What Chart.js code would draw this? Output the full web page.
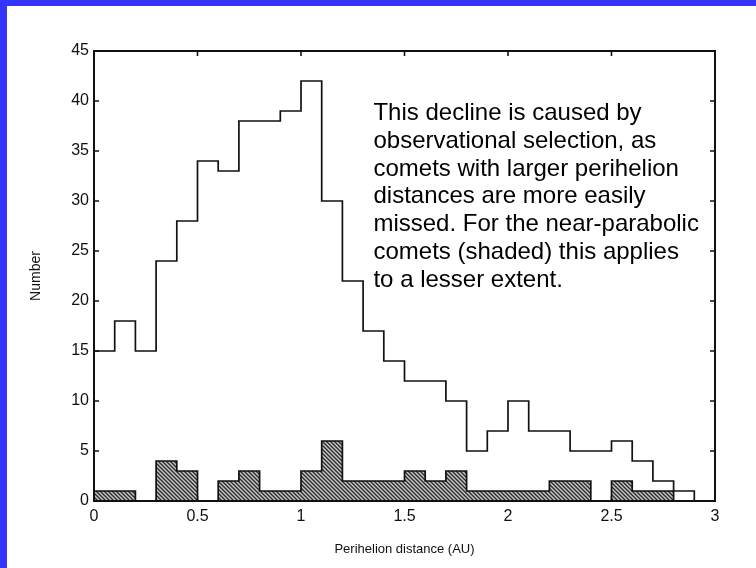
<!DOCTYPE html>
<html>
<head>
<meta charset="utf-8">
<script src="https://cdn.jsdelivr.net/npm/chart.js@4/dist/chart.umd.min.js"></script>
<style>
  html, body { margin: 0; padding: 0; }
  body { width: 756px; height: 568px; background: #3434fc; overflow: hidden; position: relative; }
  #panel { position: absolute; left: 7px; top: 6px; width: 749px; height: 562px; background: #fff; }
  canvas { display: block; }
</style>
</head>
<body>
<div id="panel"><canvas id="perihelionChart" width="749" height="562"></canvas></div>
<script>
// Comets per 0.1 AU bin of perihelion distance, 0 to 3 AU
const binWidth = 0.1;
const allComets = [15, 18, 15, 24, 28, 34, 33, 38, 38, 39, 42, 30, 22, 17, 14,
                   12, 12, 10, 5, 7, 10, 7, 7, 5, 5, 6, 4, 2, 1, 0];
const nearParabolic = [1, 1, 0, 4, 3, 0, 2, 3, 1, 1, 3, 6, 2, 2, 2,
                       3, 2, 3, 1, 1, 1, 1, 2, 2, 0, 2, 1, 1, 0, 0];
const xTicks = [0, 0.5, 1, 1.5, 2, 2.5, 3];
const xTickLabels = ['0', '0.5', '1', '1.5', '2', '2.5', '3'];
const yTicks = [0, 5, 10, 15, 20, 25, 30, 35, 40, 45];

const noteLines = [
  'This decline is caused by',
  'observational selection, as',
  'comets with larger perihelion',
  'distances are more easily',
  'missed. For the near-parabolic',
  'comets (shaded) this applies',
  'to a lesser extent.'
];

// turn bin counts into step points: left edge of each bin plus the closing edge
function stepPoints(counts) {
  const pts = counts.map((v, i) => ({ x: +(i * binWidth).toFixed(2), y: v }));
  pts.push({ x: +(counts.length * binWidth).toFixed(2), y: counts[counts.length - 1] });
  return pts;
}

// diagonal hatching used for the shaded histogram
function hatchPattern() {
  const c = document.createElement('canvas');
  c.width = 4; c.height = 4;
  const g = c.getContext('2d');
  g.fillStyle = '#c4c4c4';
  g.fillRect(0, 0, 4, 4);
  g.strokeStyle = '#2a2a2a';
  g.lineWidth = 1.3;
  g.beginPath();
  g.moveTo(-1, -1); g.lineTo(5, 5);
  g.moveTo(-1, 3); g.lineTo(1, 5);
  g.moveTo(3, -1); g.lineTo(5, 1);
  g.stroke();
  return g.createPattern(c, 'repeat');
}

const FONT = '"Liberation Sans", Arial, Helvetica, sans-serif';
Chart.defaults.font.family = FONT;
Chart.defaults.color = '#111';

const boxAndTicks = {
  id: 'boxAndTicks',
  beforeDatasetsDraw(chart) {
    const { ctx, chartArea: a, scales: { x, y } } = chart;
    ctx.save();
    ctx.strokeStyle = '#111';
    ctx.lineWidth = 1.6;
    ctx.beginPath();
    xTicks.forEach(v => {
      const px = x.getPixelForValue(v);
      ctx.moveTo(px, a.top); ctx.lineTo(px, a.top + 5);
      ctx.moveTo(px, a.bottom); ctx.lineTo(px, a.bottom - 5);
    });
    yTicks.forEach(v => {
      const py = y.getPixelForValue(v);
      ctx.moveTo(a.left, py); ctx.lineTo(a.left + 5, py);
      ctx.moveTo(a.right, py); ctx.lineTo(a.right - 5, py);
    });
    ctx.stroke();
    ctx.restore();
  },
  afterDatasetsDraw(chart) {
    const { ctx, chartArea: a, scales: { x, y } } = chart;
    ctx.save();
    ctx.strokeStyle = '#111';
    ctx.lineWidth = 2;
    ctx.strokeRect(a.left, a.top, a.right - a.left, a.bottom - a.top);

    // explanatory note inside the plot
    ctx.fillStyle = '#000';
    ctx.font = '24px ' + FONT;
    ctx.textAlign = 'left';
    ctx.textBaseline = 'alphabetic';
    const left = x.getPixelForValue(1.35);
    const top = y.getPixelForValue(38.1);
    noteLines.forEach((line, i) => ctx.fillText(line, left, top + i * 27.8));
    ctx.restore();
  }
};

new Chart(document.getElementById('perihelionChart'), {
  type: 'line',
  data: {
    datasets: [
      {
        label: 'All comets',
        data: stepPoints(allComets),
        stepped: true,
        borderColor: '#111',
        borderWidth: 1.7,
        pointRadius: 0,
        fill: false
      },
      {
        label: 'Near-parabolic',
        data: stepPoints(nearParabolic),
        stepped: true,
        borderColor: '#111',
        borderWidth: 1.7,
        backgroundColor: hatchPattern(),
        pointRadius: 0,
        fill: 'origin'
      }
    ]
  },
  options: {
    responsive: false,
    animation: false,
    devicePixelRatio: 1,
    layout: { padding: { top: 45, right: 41, left: 0, bottom: 0 } },
    plugins: {
      legend: { display: false },
      tooltip: { enabled: false }
    },
    scales: {
      x: {
        type: 'linear',
        min: 0,
        max: 3,
        afterFit: s => { s.height = 67; },
        afterBuildTicks: s => { s.ticks = xTicks.map(v => ({ value: v })); },
        grid: { display: false, drawTicks: false },
        border: { display: false },
        ticks: {
          font: { size: 16 },
          color: '#111',
          padding: 6,
          maxRotation: 0,
          callback: (v, i) => xTickLabels[i]
        },
        title: {
          display: true,
          text: 'Perihelion distance (AU)',
          font: { size: 13 },
          color: '#111',
          padding: { top: 0, bottom: 11 }
        }
      },
      y: {
        min: 0,
        max: 45,
        afterFit: s => { s.width = 87; },
        afterBuildTicks: s => { s.ticks = yTicks.map(v => ({ value: v })); },
        grid: { display: false, drawTicks: false },
        border: { display: false },
        ticks: { font: { size: 16 }, color: '#111', padding: 5 },
        title: {
          display: true,
          text: 'Number',
          font: { size: 14 },
          color: '#111',
          padding: { top: 21, bottom: 0 }
        }
      }
    }
  },
  plugins: [boxAndTicks]
});
</script>
</body>
</html>
